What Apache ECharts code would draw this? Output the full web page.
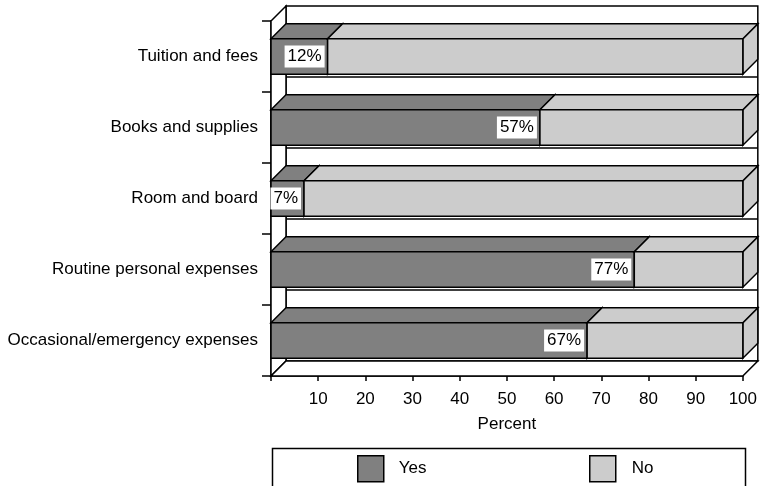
<!DOCTYPE html>
<html>
<head>
<meta charset="utf-8">
<script src="https://cdn.jsdelivr.net/npm/echarts@6/dist/echarts.min.js"></script>
<style>
  html, body { margin: 0; padding: 0; background: #fff; }
  #chart { width: 760px; height: 486px; }
</style>
</head>
<body>
<div id="chart"></div>
<script>
const categories = ['Tuition and fees', 'Books and supplies', 'Room and board', 'Routine personal expenses', 'Occasional/emergency expenses'];
const yesValues = [12, 57, 7, 77, 67];
const noValues = [88, 43, 93, 23, 33];
const xTicks = [0, 10, 20, 30, 40, 50, 60, 70, 80, 90, 100];

const FONT = '"Liberation Sans", Arial, sans-serif';
const DEPTH = 15;
const LINE = 1.5;

// stacked segments: [start, end, category index]
const yesData = yesValues.map((v, i) => [0, v, i]);
const noData = noValues.map((v, i) => [yesValues[i], yesValues[i] + v, i]);

function boxItem(withLabel) {
    return function (params, api) {
        const start = api.value(0);
        const end = api.value(1);
        const cat = api.value(2);
        const p0 = api.coord([start, cat]);
        const p1 = api.coord([end, cat]);
        const band = api.size([0, 1])[1];
        const h = band * 0.5;
        const top = p0[1] - h / 2;
        const bottom = p0[1] + h / 2;
        const x0 = p0[0], x1 = p1[0];
        const style = { fill: api.visual('color'), stroke: '#000', lineWidth: LINE };
        const children = [
            { type: 'polygon', shape: { points: [[x1, top], [x1 + DEPTH, top - DEPTH], [x1 + DEPTH, bottom - DEPTH], [x1, bottom]] }, style: style },
            { type: 'polygon', shape: { points: [[x0, top], [x0 + DEPTH, top - DEPTH], [x1 + DEPTH, top - DEPTH], [x1, top]] }, style: style },
            { type: 'rect', shape: { x: x0, y: top, width: x1 - x0, height: h }, style: style }
        ];
        if (withLabel) {
            children.push({
                type: 'text',
                style: {
                    text: end + '%',
                    x: x1 - 3,
                    y: p0[1],
                    align: 'right',
                    verticalAlign: 'middle',
                    fill: '#000',
                    font: '17px ' + FONT,
                    backgroundColor: '#fff',
                    padding: [3, 3, 2, 3]
                }
            });
        }
        return { type: 'group', children: children };
    };
}

function wallsItem(params, api) {
    const cs = params.coordSys;
    const x0 = cs.x, x1 = cs.x + cs.width;
    const yT = cs.y, yB = cs.y + cs.height;
    const band = api.size([0, 1])[1];
    const style = { fill: '#fff', stroke: '#000', lineWidth: LINE };
    const children = [
        { type: 'rect', shape: { x: x0 + DEPTH, y: yT - DEPTH, width: x1 - x0, height: yB - yT }, style: style },
        { type: 'polygon', shape: { points: [[x0, yT], [x0 + DEPTH, yT - DEPTH], [x0 + DEPTH, yB - DEPTH], [x0, yB]] }, style: style },
        { type: 'polygon', shape: { points: [[x0, yB], [x0 + DEPTH, yB - DEPTH], [x1 + DEPTH, yB - DEPTH], [x1, yB]] }, style: style }
    ];
    for (let k = 1; k < categories.length; k++) {
        const y = yT + k * band - DEPTH;
        children.push({ type: 'line', shape: { x1: x0 + DEPTH, y1: y, x2: x1 + DEPTH, y2: y }, style: { stroke: '#000', lineWidth: LINE } });
    }
    return { type: 'group', children: children };
}

const myChart = echarts.init(document.getElementById('chart'));
const option = {
    animation: false,
    textStyle: { fontFamily: FONT },
    grid: { left: 271, right: 16, top: 21, bottom: 110 },
    xAxis: {
        type: 'value',
        min: 0,
        max: 100,
        interval: 10,
        name: 'Percent',
        nameLocation: 'middle',
        nameGap: 40,
        nameTextStyle: { color: '#000', fontSize: 17, fontFamily: FONT },
        axisLine: { show: true, lineStyle: { color: '#000', width: LINE } },
        axisTick: { show: true, length: 5, lineStyle: { color: '#000', width: LINE } },
        axisLabel: {
            color: '#000', fontSize: 17, fontFamily: FONT, margin: 15,
            formatter: v => (xTicks.indexOf(v) > 0 ? String(v) : '')
        },
        splitLine: { show: false }
    },
    yAxis: {
        type: 'category',
        inverse: true,
        data: categories,
        axisLine: { show: true, lineStyle: { color: '#000', width: LINE } },
        axisTick: { show: true, length: 9, lineStyle: { color: '#000', width: LINE } },
        axisLabel: { color: '#000', fontSize: 17, fontFamily: FONT, margin: 13 },
        splitLine: { show: false }
    },
    legend: [
        {
            data: ['Yes'], left: 357, top: 455, padding: 0, itemWidth: 26, itemHeight: 26, icon: 'rect',
            itemStyle: { borderColor: '#000', borderWidth: LINE },
            textStyle: { color: '#000', fontSize: 17, fontFamily: FONT, padding: [0, 0, 0, 10] }
        },
        {
            data: ['No'], left: 589, top: 455, padding: 0, itemWidth: 26, itemHeight: 26, icon: 'rect',
            itemStyle: { borderColor: '#000', borderWidth: LINE },
            textStyle: { color: '#000', fontSize: 17, fontFamily: FONT, padding: [0, 0, 0, 11] }
        }
    ],
    graphic: [
        {
            type: 'rect', left: 270, top: 446, z: -1,
            shape: { width: 473, height: 60 },
            style: { fill: 'none', stroke: '#000', lineWidth: LINE }
        }
    ],
    series: [
        {
            name: 'walls', type: 'custom', z: 1, silent: true, clip: false,
            data: [[0, 0]], encode: { x: 0, y: 1 },
            renderItem: wallsItem
        },
        {
            name: 'Yes', type: 'custom', z: 2, clip: false,
            itemStyle: { color: '#808080' },
            data: yesData, encode: { x: [0, 1], y: 2 },
            renderItem: boxItem(true)
        },
        {
            name: 'No', type: 'custom', z: 3, clip: false,
            itemStyle: { color: '#cccccc' },
            data: noData, encode: { x: [0, 1], y: 2 },
            renderItem: boxItem(false)
        }
    ]
};
myChart.setOption(option);
window.onresize = () => myChart.resize();
</script>
</body>
</html>
